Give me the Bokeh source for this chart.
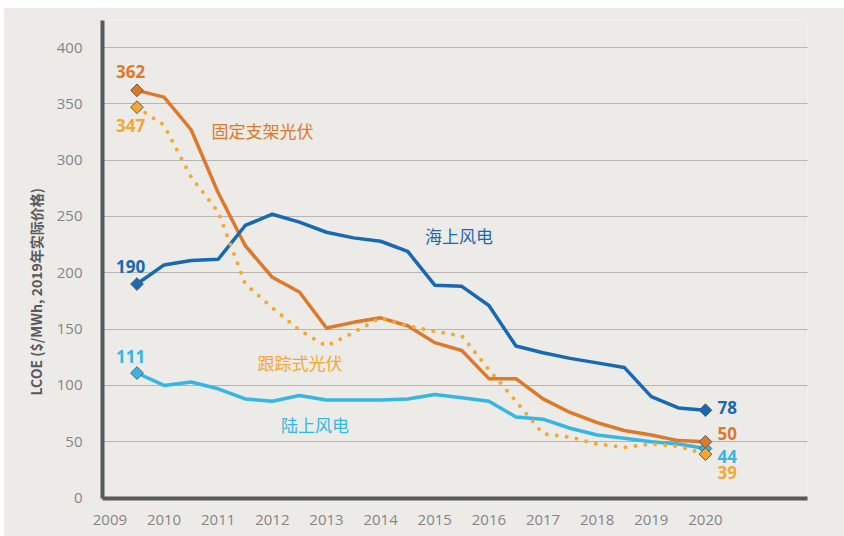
import math
from bokeh.plotting import figure
from bokeh.models import FixedTicker, Range1d, Spacer
from bokeh.layouts import column, row
from bokeh.embed import file_html
from bokeh.resources import INLINE
from bokeh.core.properties import value

# ---- data (half-year periods) ----
periods = [2009.5, 2010.0, 2010.5, 2011.0, 2011.5, 2012.0, 2012.5, 2013.0, 2013.5, 2014.0, 2014.5,
           2015.0, 2015.5, 2016.0, 2016.5, 2017.0, 2017.5, 2018.0, 2018.5, 2019.0, 2019.5, 2020.0]
offshore_wind = [190, 207, 211, 212, 242, 252, 245, 236, 231, 228, 219, 189, 188, 171, 135, 129, 124, 120, 116, 90, 80, 78]
fixed_pv = [362, 356, 327, 271, 224, 196, 183, 151, 156, 160, 153, 138, 131, 106, 106, 88, 76, 67, 60, 56, 51, 50]
tracking_pv = [347, 331, 285, 254, 190, 169, 149, 135, 147, 160, 153, 148, 144, 114, 86, 57, 54, 48, 45, 48, 46, 39]
onshore_wind = [111, 100, 103, 97, 88, 86, 91, 87, 87, 87, 88, 92, 89, 86, 72, 70, 62, 56, 53, 50, 48, 44]
year_ticks = [2009, 2010, 2011, 2012, 2013, 2014, 2015, 2016, 2017, 2018, 2019, 2020]
value_ticks = [0, 50, 100, 150, 200, 250, 300, 350, 400]
series_names = ["海上风电", "固定支架光伏", "跟踪式光伏", "陆上风电"]
y_title = "LCOE ($/MWh, 2019年实际价格)"

# ---- style ----
BG = "#edebe8"
C_OFF = "#1769b3"
C_FIX = "#e0782a"
C_TRK = "#f5a831"
C_ON = "#35b6e5"
AXIS = "#58595b"
TICK_TXT = "#858585"
NUM_FONT = "Open Sans"
CJK_FONT = "Noto Sans CJK SC"

p = figure(width=841, height=529, output_backend="svg", toolbar_location=None,
           x_range=Range1d(2008.863, 2021.885), y_range=Range1d(-0.4, 424),
           background_fill_color=BG, border_fill_color=BG,
           min_border_left=99, min_border_right=37, min_border_top=13, min_border_bottom=38,
           outline_line_color=None, title_location="left")

p.title.text = y_title
p.title.align = "left"
p.title.offset = 103
p.title.standoff = 15
p.title.text_font = CJK_FONT
p.title.text_font_size = "14px"
p.title.text_font_style = "bold"
p.title.text_color = AXIS

p.xgrid.visible = False
p.ygrid.grid_line_color = "#7f7f7f"
p.ygrid.grid_line_dash = "1 1"
p.ygrid.grid_line_width = 1

for ax in (p.xaxis, p.yaxis):
    ax.axis_line_width = 4
    ax.axis_line_color = AXIS
    ax.major_tick_line_color = None
    ax.minor_tick_line_color = None
    ax.major_label_text_color = TICK_TXT
    ax.major_label_text_font = NUM_FONT
    ax.major_label_text_font_size = "15px"
p.xaxis.ticker = FixedTicker(ticks=year_ticks)
p.yaxis.ticker = FixedTicker(ticks=value_ticks)
p.xaxis.major_label_standoff = 10
p.yaxis.major_label_standoff = 14

# lines
p.line(periods, onshore_wind, line_color=C_ON, line_width=3.5, line_join="round")
p.line(periods, fixed_pv, line_color=C_FIX, line_width=3.5, line_join="round")
p.line(periods, offshore_wind, line_color=C_OFF, line_width=3.5, line_join="round")
p.line(periods, tracking_pv, line_color=C_TRK, line_width=4, line_dash="0 10", line_cap="round")

# end markers
mk = dict(marker="square", angle=math.pi / 4, size=9, line_color="#5a5a5a", line_width=1)
for series, col in ((onshore_wind, C_ON), (offshore_wind, C_OFF), (fixed_pv, C_FIX), (tracking_pv, C_TRK)):
    p.scatter([periods[0], periods[-1]], [series[0], series[-1]], fill_color=col, **mk)

# value labels
def vlabel(x, y, txt, col, dx, dy):
    p.text([x], [y], text=[txt], text_color=col, text_font=value(NUM_FONT),
           text_font_style="bold", text_font_size="17px", text_align="left",
           text_baseline="middle", x_offset=dx, y_offset=dy)

vlabel(periods[0], fixed_pv[0], str(fixed_pv[0]), C_FIX, -21, -19)
vlabel(periods[0], tracking_pv[0], str(tracking_pv[0]), C_TRK, -21, 18)
vlabel(periods[0], offshore_wind[0], str(offshore_wind[0]), C_OFF, -21, -18)
vlabel(periods[0], onshore_wind[0], str(onshore_wind[0]), C_ON, -21, -17)
vlabel(periods[-1], offshore_wind[-1], str(offshore_wind[-1]), C_OFF, 12, -3)
vlabel(periods[-1], fixed_pv[-1], str(fixed_pv[-1]), C_FIX, 12, -8)
vlabel(periods[-1], onshore_wind[-1], str(onshore_wind[-1]), C_ON, 12, 8)
vlabel(periods[-1], tracking_pv[-1], str(tracking_pv[-1]), C_TRK, 12, 18)

# series name labels
name_x = [2015.45, 2011.82, 2012.51, 2012.79]
name_y = [233, 326, 120, 65]
name_col = [C_OFF, C_FIX, C_TRK, C_ON]
p.text(name_x, name_y, text=series_names, text_color=name_col, text_font=value(CJK_FONT),
       text_font_size="17px", text_align="center", text_baseline="middle")

layout = column(Spacer(height=7), row(Spacer(width=3), p))
open("out.html", "w").write(file_html(layout, INLINE))
